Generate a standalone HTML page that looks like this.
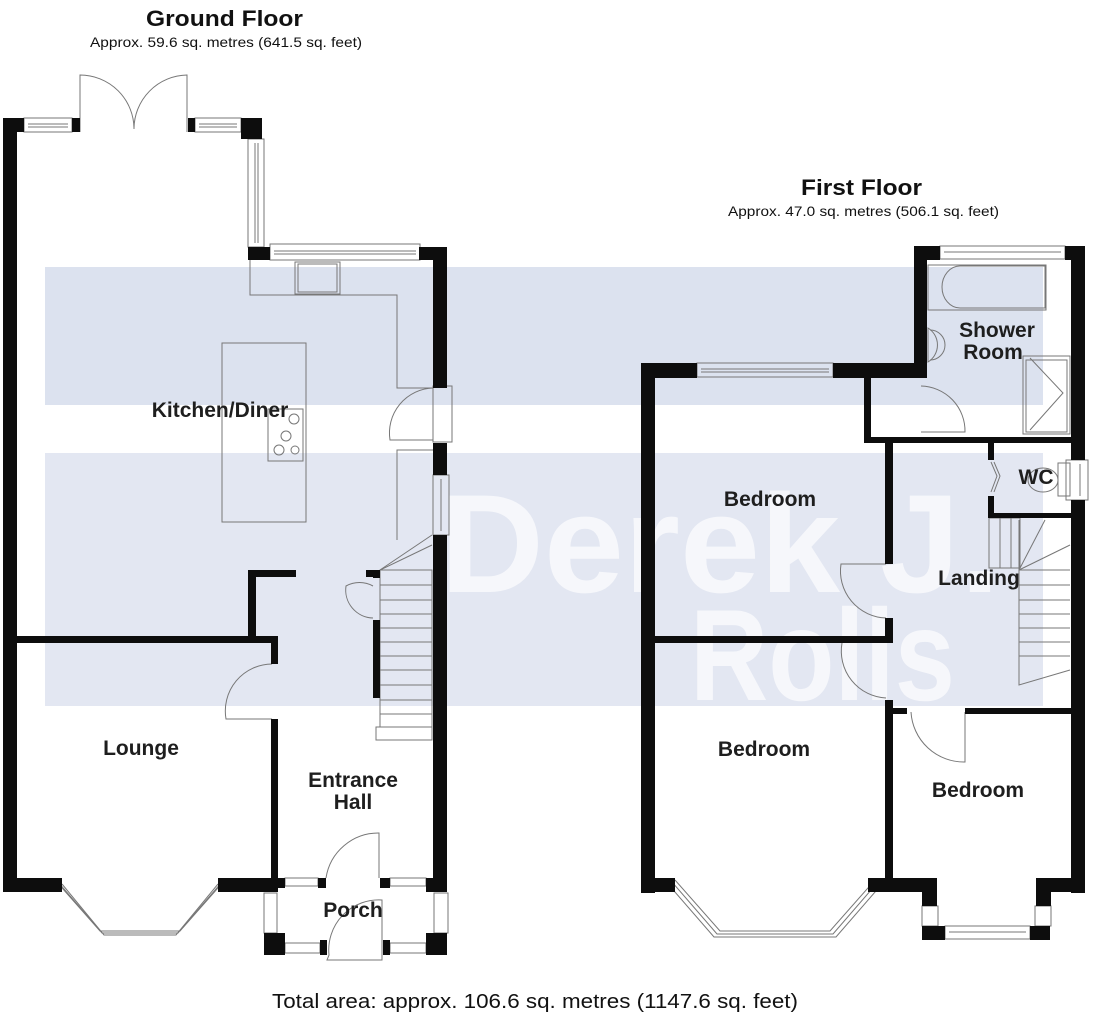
<!DOCTYPE html>
<html><head><meta charset="utf-8"><style>
html,body{margin:0;padding:0;background:#fff;}
svg{display:block;font-family:"Liberation Sans",sans-serif;}
</style></head><body>
<svg width="1096" height="1016" viewBox="0 0 1096 1016" xmlns="http://www.w3.org/2000/svg">
<!-- watermark bands -->
<rect x="45" y="267" width="998" height="138" fill="#dce2ef"/>
<rect x="45" y="453" width="998" height="253" fill="#e3e7f2"/>
<g fill="#ffffff" font-weight="bold" opacity="0.7">
<text x="440" y="592" font-size="140" textLength="560" lengthAdjust="spacingAndGlyphs">Derek J.</text>
<text x="690" y="700" font-size="130" textLength="265" lengthAdjust="spacingAndGlyphs">Rolls</text>
</g>

<!-- titles -->
<g fill="#111">
<text x="146" y="26" font-size="22" font-weight="bold" textLength="157" lengthAdjust="spacingAndGlyphs">Ground Floor</text>
<text x="90" y="47" font-size="14" textLength="272" lengthAdjust="spacingAndGlyphs">Approx. 59.6 sq. metres (641.5 sq. feet)</text>
<text x="801" y="195" font-size="22" font-weight="bold" textLength="121" lengthAdjust="spacingAndGlyphs">First Floor</text>
<text x="728" y="216" font-size="14" textLength="271" lengthAdjust="spacingAndGlyphs">Approx. 47.0 sq. metres (506.1 sq. feet)</text>
<text x="272" y="1008" font-size="20" textLength="526" lengthAdjust="spacingAndGlyphs">Total area: approx. 106.6 sq. metres (1147.6 sq. feet)</text>
</g>

<!-- thin lines: fixtures, doors, windows -->
<g fill="none" stroke="#777" stroke-width="1">
<rect x="24" y="118" width="48" height="14"/><line x1="28" y1="124" x2="68" y2="124"/><line x1="28" y1="127" x2="68" y2="127"/>
<rect x="195" y="118" width="46" height="14"/><line x1="199" y1="124" x2="237" y2="124"/><line x1="199" y1="127" x2="237" y2="127"/>
<rect x="248" y="139" width="16" height="108"/><line x1="255" y1="143" x2="255" y2="243"/><line x1="258" y1="143" x2="258" y2="243"/>
<rect x="270" y="244" width="150" height="16"/><line x1="274" y1="251" x2="416" y2="251"/><line x1="274" y1="254" x2="416" y2="254"/>
<path d="M80 132 V75 A54 54 0 0 1 134 129"/><path d="M187 132 V75 A54 54 0 0 0 134 129"/>
<path d="M250 260 V295 H397 V388 H433"/>
<rect x="295" y="262" width="45" height="32"/><rect x="298" y="264" width="39" height="28"/>
<rect x="222" y="343" width="84" height="179"/>
<rect x="268" y="409" width="35" height="52"/>
<circle cx="294" cy="419" r="5"/><circle cx="286" cy="436" r="5"/><circle cx="279" cy="450" r="5"/><circle cx="295" cy="450" r="4"/>
<path d="M433 388 A45 45 0 0 0 390 440 H433"/><rect x="433" y="386" width="19" height="56"/>
<path d="M397 540 V450 H433"/>
<rect x="433" y="475" width="16" height="60"/><line x1="441" y1="479" x2="441" y2="531"/>
<line x1="380" y1="570" x2="432" y2="545"/><line x1="380" y1="570" x2="432" y2="535"/>
<rect x="380" y="570" width="52" height="157"/>
<g><line x1="380" y1="585" x2="432" y2="585"/><line x1="380" y1="600" x2="432" y2="600"/><line x1="380" y1="614" x2="432" y2="614"/><line x1="380" y1="628" x2="432" y2="628"/><line x1="380" y1="642" x2="432" y2="642"/><line x1="380" y1="656" x2="432" y2="656"/><line x1="380" y1="670" x2="432" y2="670"/><line x1="380" y1="685" x2="432" y2="685"/><line x1="380" y1="700" x2="432" y2="700"/><line x1="380" y1="714" x2="432" y2="714"/></g>
<rect x="376" y="727" width="56" height="13"/>
<path d="M373 586 A28 28 0 0 0 346 586 A28 28 0 0 0 373 618"/>
<path d="M272 664 A47 47 0 0 0 226 719 H272"/>
<path d="M55 880 L100 931 H180 L225 880"/><path d="M62 884 L104 935 H176 L218 884"/><path d="M58 882 L102 933 H178 L222 882"/>
<path d="M326 878 A53 53 0 0 1 379 833 V878"/>
<path d="M329 955 A50 50 0 0 1 382 900 V960 H327 Z"/>
<rect x="285" y="878" width="33" height="8"/><rect x="390" y="878" width="36" height="8"/>
<rect x="285" y="943" width="35" height="10"/><rect x="390" y="943" width="36" height="10"/>
<rect x="264" y="893" width="13" height="40"/><rect x="434" y="893" width="14" height="40"/>
<rect x="697" y="363" width="136" height="14"/><line x1="701" y1="369" x2="829" y2="369"/><line x1="701" y1="372" x2="829" y2="372"/>
<rect x="940" y="246" width="125" height="13"/><line x1="944" y1="252" x2="1061" y2="252"/>
<rect x="1066" y="460" width="22" height="40"/><line x1="1080" y1="464" x2="1080" y2="496"/>
<path d="M960 266 H1045 V308 H960 A18 21 0 0 1 960 266 Z"/>
<rect x="928" y="265" width="118" height="45"/>
<path d="M928 328 A20 20 0 0 1 928 362 Z" /><path d="M930 330 A15 15 0 0 1 930 360"/>
<rect x="1023" y="356" width="47" height="78"/><rect x="1026" y="360" width="41" height="72"/>
<path d="M1030 358 L1063 393 L1030 430"/>
<path d="M921 386 A45 45 0 0 1 965 432 H921"/>
<path d="M994 462 L1000 476 L994 492"/><path d="M991 462 L997 476 L991 492"/>
<rect x="1058" y="463" width="12" height="33"/><ellipse cx="1043" cy="480" rx="15" ry="12"/>
<rect x="989" y="518" width="31" height="50"/>
<line x1="1000" y1="518" x2="1000" y2="568"/><line x1="1011" y1="518" x2="1011" y2="568"/>
<path d="M1019 520 V685 L1070 670"/><line x1="1019" y1="570" x2="1045" y2="520"/><line x1="1019" y1="570" x2="1070" y2="545"/>
<g><line x1="1019" y1="570" x2="1070" y2="570"/><line x1="1019" y1="585" x2="1070" y2="585"/><line x1="1019" y1="600" x2="1070" y2="600"/><line x1="1019" y1="614" x2="1070" y2="614"/><line x1="1019" y1="628" x2="1070" y2="628"/><line x1="1019" y1="642" x2="1070" y2="642"/><line x1="1019" y1="656" x2="1070" y2="656"/></g>
<path d="M886 564 H841 A47 47 0 0 0 886 618"/>
<path d="M842 643 A47 47 0 0 0 886 698"/>
<path d="M911 712 A53 53 0 0 0 965 762 V712"/>
<path d="M675 880 L720 931 H830 L875 880"/><path d="M668 884 L714 937 H836 L882 884"/><path d="M672 882 L717 934 H833 L878 882"/>
<rect x="922" y="906" width="16" height="20"/><rect x="1035" y="906" width="16" height="20"/>
<rect x="945" y="926" width="85" height="13"/><line x1="949" y1="932" x2="1026" y2="932"/>
</g>

<!-- walls -->
<g fill="#0d0d0d">
<rect x="3" y="118" width="14" height="774"/>
<rect x="3" y="118" width="21" height="14"/><rect x="72" y="118" width="8" height="14"/>
<rect x="188" y="118" width="7" height="14"/><rect x="241" y="118" width="21" height="21"/>
<rect x="248" y="247" width="22" height="13"/><rect x="419" y="247" width="28" height="13"/>
<rect x="433" y="247" width="14" height="141"/>
<rect x="433" y="443" width="14" height="32"/>
<rect x="433" y="535" width="14" height="350"/>
<rect x="3" y="878" width="59" height="14"/>
<rect x="218" y="878" width="60" height="14"/>
<rect x="17" y="636" width="261" height="7"/>
<rect x="271" y="636" width="7" height="28"/>
<rect x="271" y="719" width="7" height="173"/>
<rect x="248" y="570" width="8" height="70"/><rect x="248" y="570" width="48" height="7"/>
<rect x="366" y="570" width="14" height="7"/><rect x="373" y="570" width="7" height="8"/>
<rect x="373" y="620" width="7" height="78"/>
<rect x="278" y="878" width="7" height="10"/><rect x="318" y="878" width="8" height="10"/>
<rect x="380" y="878" width="10" height="10"/><rect x="426" y="878" width="21" height="14"/>
<rect x="264" y="933" width="21" height="22"/><rect x="320" y="940" width="7" height="15"/>
<rect x="383" y="940" width="7" height="15"/><rect x="426" y="933" width="21" height="22"/>
<rect x="641" y="363" width="14" height="530"/>
<rect x="641" y="363" width="56" height="15"/><rect x="833" y="363" width="94" height="15"/>
<rect x="914" y="246" width="13" height="132"/><rect x="914" y="246" width="26" height="14"/>
<rect x="1065" y="246" width="20" height="14"/>
<rect x="1071" y="246" width="14" height="214"/><rect x="1071" y="500" width="14" height="393"/>
<rect x="864" y="378" width="7" height="65"/><rect x="864" y="437" width="207" height="6"/>
<rect x="885" y="443" width="8" height="121"/><rect x="885" y="618" width="8" height="25"/>
<rect x="655" y="636" width="238" height="7"/>
<rect x="988" y="443" width="6" height="17"/><rect x="988" y="496" width="6" height="22"/>
<rect x="988" y="513" width="83" height="5"/>
<rect x="885" y="700" width="8" height="192"/><rect x="885" y="708" width="22" height="6"/>
<rect x="965" y="708" width="106" height="6"/>
<rect x="641" y="878" width="34" height="14"/><rect x="868" y="878" width="69" height="14"/>
<rect x="922" y="878" width="15" height="28"/><rect x="922" y="926" width="23" height="14"/>
<rect x="1030" y="926" width="20" height="14"/><rect x="1036" y="878" width="15" height="28"/>
<rect x="1036" y="878" width="49" height="14"/>
</g>

<!-- room labels -->
<g fill="#1e1e1e" font-size="21" font-weight="bold" text-anchor="middle">
<text x="220" y="417">Kitchen/Diner</text>
<text x="141" y="755">Lounge</text>
<text x="353" y="787">Entrance</text>
<text x="353" y="809">Hall</text>
<text x="353" y="917">Porch</text>
<text x="770" y="506">Bedroom</text>
<text x="997" y="337">Shower</text>
<text x="993" y="359">Room</text>
<text x="1036" y="484">WC</text>
<text x="979" y="585">Landing</text>
<text x="764" y="756">Bedroom</text>
<text x="978" y="797">Bedroom</text>
</g>
</svg>
</body></html>
